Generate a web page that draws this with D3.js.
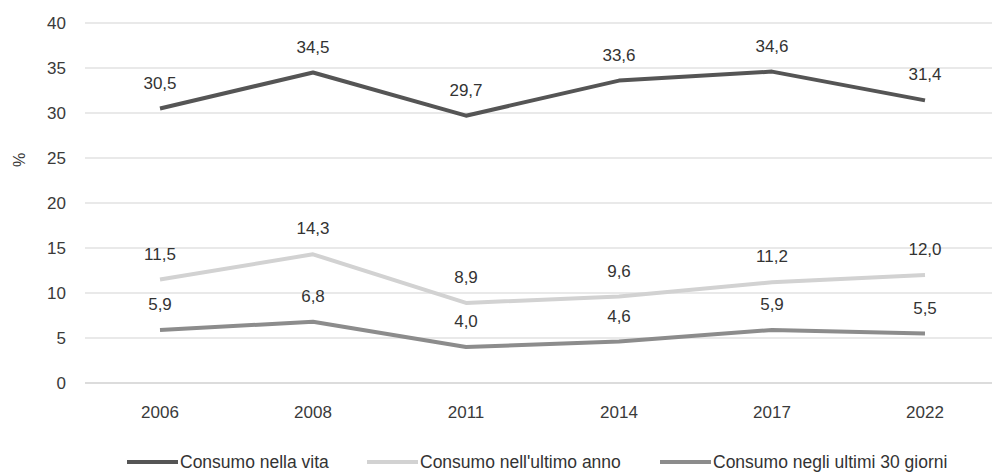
<!DOCTYPE html>
<html><head><meta charset="utf-8">
<script src="https://cdn.jsdelivr.net/npm/d3@7"></script>
<style>body{margin:0;background:#fff}svg{display:block}</style>
</head><body>
<svg id="c" width="992" height="476"></svg>
<script>
const years = ["2006","2008","2011","2014","2017","2022"];
const vita = [30.5,34.5,29.7,33.6,34.6,31.4];
const anno = [11.5,14.3,8.9,9.6,11.2,12.0];
const giorni = [5.9,6.8,4.0,4.6,5.9,5.5];
const yTicks = [0,5,10,15,20,25,30,35,40];
const seriesNames = ["Consumo nella vita","Consumo nell'ultimo anno","Consumo negli ultimi 30 giorni"];
const seriesColors = ["#555555","#d2d2d2","#8c8c8c"];

const FONT = "'Liberation Sans Narrow', 'Arial Narrow', 'Liberation Sans', sans-serif";
const svg = d3.select("#c");
const x = d3.scaleBand().domain(years).range([83.5, 1001.5]);
const y = d3.scaleLinear().domain([0,40]).range([383,23]);
const cx = d => x(d) + x.bandwidth()/2;

// gridlines
svg.append("g").selectAll("line").data(yTicks).join("line")
  .attr("x1",85).attr("x2",992)
  .attr("y1",d=>y(d)).attr("y2",d=>y(d))
  .attr("stroke", d => d===0 ? "#d0d0d0" : "#e2e2e2").attr("stroke-width",1.5);

// y axis labels
const yAxis = d3.axisLeft(y).tickValues(yTicks).tickSize(0).tickPadding(0);
const yg = svg.append("g").attr("transform","translate(66,0)").call(yAxis);
yg.select(".domain").remove();
yg.selectAll("text").attr("font-family",FONT).attr("font-size",17).attr("fill","#3a3a3a");

// x axis labels
const xAxis = d3.axisBottom(x).tickSize(0).tickPadding(0);
const xg = svg.append("g").attr("transform","translate(0,406)").call(xAxis);
xg.select(".domain").remove();
xg.selectAll("text").attr("font-family",FONT).attr("font-size",17).attr("fill","#3a3a3a");

// y title
svg.append("text").attr("transform","translate(25,160) rotate(-90)")
  .attr("text-anchor","middle").attr("font-family",FONT).attr("font-size",16).attr("fill","#3a3a3a").text("%");

const series = [vita, anno, giorni];
const line = d3.line().x((d,i)=>cx(years[i])).y(d=>y(d));
series.forEach((s,k)=>{
  svg.append("path").datum(s).attr("d",line).attr("fill","none")
    .attr("stroke",seriesColors[k]).attr("stroke-width",4).attr("stroke-linejoin","round");
});
series.forEach((s,k)=>{
  svg.append("g").selectAll("text").data(s).join("text")
    .attr("x",(d,i)=>cx(years[i])).attr("y",d=>y(d)-20)
    .attr("text-anchor","middle").attr("font-family",FONT).attr("font-size",17).attr("fill","#333")
    .text(d=>d3.format(".1f")(d).replace(".",","));
});

// legend
const legX = [127, 367, 660];
const lg = svg.append("g");
seriesNames.forEach((n,k)=>{
  lg.append("line").attr("x1",legX[k]).attr("x2",legX[k]+51).attr("y1",462).attr("y2",462)
    .attr("stroke",seriesColors[k]).attr("stroke-width",4);
  lg.append("text").attr("x",legX[k]+53).attr("y",468).attr("font-family",FONT)
    .attr("font-size",17.5).attr("fill","#333").text(n);
});
</script>
</body></html>
